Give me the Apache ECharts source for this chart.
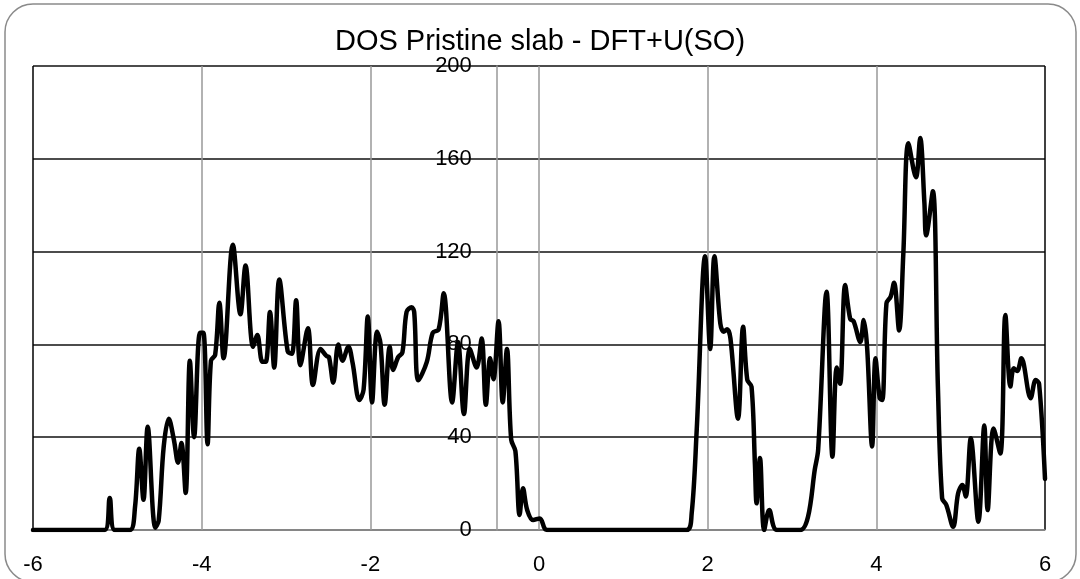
<!DOCTYPE html>
<html>
<head>
<meta charset="utf-8">
<script src="https://cdn.jsdelivr.net/npm/echarts@6/dist/echarts.min.js"></script>
<style>
html,body{margin:0;padding:0;background:#fff;}
#chart{width:1080px;height:579px;}
</style>
</head>
<body>
<div id="chart"></div>
<script>
const chartTitle = 'DOS Pristine slab - DFT+U(SO)';
const xTicks = [-6, -4, -2, 0, 2, 4, 6];
const yTicks = [0, 40, 80, 120, 160, 200];
const yAxisCrossAt = -0.5;

const energy = [
  -6, -5.15, -5.09, -5.03, -4.85, -4.79, -4.74, -4.69, -4.64, -4.55, -4.51, -4.45, -4.39, -4.33, -4.28, -4.24,
  -4.19, -4.14, -4.09, -4.02, -3.98, -3.93, -3.89, -3.84, -3.79, -3.74, -3.63, -3.54, -3.48, -3.39, -3.34, -3.28,
  -3.24, -3.19, -3.14, -3.08, -2.98, -2.93, -2.88, -2.83, -2.74, -2.68, -2.59, -2.52, -2.49, -2.44, -2.38, -2.33,
  -2.26, -2.21, -2.13, -2.08, -2.03, -1.98, -1.92, -1.88, -1.83, -1.77, -1.73, -1.67, -1.62, -1.57, -1.51, -1.48,
  -1.43, -1.33, -1.26, -1.19, -1.13, -1.03, -0.96, -0.89, -0.82, -0.74, -0.68, -0.63, -0.58, -0.54, -0.48, -0.43,
  -0.38, -0.33, -0.28, -0.23, -0.19, -0.14, -0.07, 0.01, 0.07, 0.12, 1.75, 1.81, 1.87, 1.97, 2.03, 2.08,
  2.15, 2.19, 2.23, 2.27, 2.36, 2.42, 2.47, 2.52, 2.56, 2.58, 2.62, 2.67, 2.73, 2.82, 3.10, 3.19,
  3.27, 3.31, 3.41, 3.48, 3.53, 3.57, 3.63, 3.69, 3.73, 3.81, 3.85, 3.89, 3.95, 3.99, 4.04, 4.07,
  4.12, 4.17, 4.21, 4.27, 4.32, 4.38, 4.47, 4.52, 4.57, 4.59, 4.67, 4.73, 4.78, 4.83, 4.91, 4.97,
  5.02, 5.06, 5.12, 5.21, 5.28, 5.32, 5.39, 5.47, 5.53, 5.59, 5.63, 5.67, 5.72, 5.83, 5.89, 5.93, 6.0
];
const dos = [
  0, 0, 13.8, 0, 0, 10, 35, 13, 44.5, 1, 4, 36, 48, 39, 29, 37.5,
  16, 73, 40, 85, 85, 37, 73, 75.5, 98, 74, 123, 93, 114, 79, 84, 72.5,
  72.5, 94, 70, 108, 77, 76, 99, 71, 87, 62.5, 78, 75, 74.5, 63.5, 80, 73,
  79, 72, 56, 60.5, 92, 55, 85.5, 80.5, 54, 79, 69, 74.5, 76.5, 94, 96, 94,
  64.5, 72.5, 85, 86.5, 102, 55, 81, 50, 78, 70, 82.5, 54, 74, 65, 90, 55,
  78, 39, 34, 6.5, 18, 8.6, 4.3, 5, 0.5, 0, 0, 7, 43, 118, 78, 118,
  89, 85.5, 86.5, 82.6, 48, 87.6, 64.7, 61.8, 28.7, 11.5, 31, 0, 8.6, 0, 0, 5.7,
  26, 34.5, 102.7, 31.6, 70, 63, 105.6, 91, 90, 81, 90.5, 79, 36, 74, 56.8, 56,
  97.7, 100.6, 106.6, 86, 119, 166.7, 152, 169, 141, 127, 146, 61.8, 13.7, 10.8, 1.4, 15.8,
  19.4, 14.4, 39.5, 3.6, 45, 8.6, 43.8, 33, 92.7, 61.8, 69.7, 68.5, 74, 56.8, 64.7, 63, 22
];

const seriesData = energy.map((x, i) => [x, dos[i]]);
const FONT = '"Liberation Sans", Arial, sans-serif';

const W = 1080, H = 579;
const gridLeft = 33, gridRight = 35, gridTop = 66, gridBottom = 49;
const plotW = W - gridLeft - gridRight;
const xMin = xTicks[0], xMax = xTicks[xTicks.length - 1];
// y axis crosses the x axis at yAxisCrossAt: shift it inward from the left edge
const yAxisShift = (yAxisCrossAt - xMin) / (xMax - xMin) * plotW;

const chart = echarts.init(document.getElementById('chart'), null, {renderer: 'canvas'});
chart.setOption({
  animation: false,
  backgroundColor: '#fff',
  title: {
    text: chartTitle,
    left: 'center',
    top: 22,
    textStyle: {fontFamily: FONT, fontSize: 29, fontWeight: 'normal', color: '#000'}
  },
  graphic: [{
    type: 'rect',
    shape: {x: 5, y: 4, width: 1071, height: 578, r: 28},
    style: {fill: 'none', stroke: '#8a8a8a', lineWidth: 1.5},
    silent: true, z: -10
  }],
  grid: {left: gridLeft, right: gridRight, top: gridTop, bottom: gridBottom, containLabel: false, outerBoundsMode: 'none'},
  xAxis: {
    type: 'value',
    min: xMin, max: xMax, interval: 2,
    position: 'bottom',
    axisLine: {show: true, onZero: false, lineStyle: {color: '#999', width: 1.5}},
    axisTick: {show: false},
    axisLabel: {fontFamily: FONT, fontSize: 22, color: '#000', margin: 24, showMinLabel: true, showMaxLabel: true},
    splitLine: {show: true, lineStyle: {color: ['#000', '#999', '#999', '#999', '#999', '#999', '#000'], width: 1.5}}
  },
  yAxis: {
    type: 'value',
    position: 'left',
    offset: -yAxisShift,
    min: yTicks[0], max: yTicks[yTicks.length - 1], interval: 40,
    axisLine: {show: true, onZero: false, lineStyle: {color: '#999', width: 1.5}},
    axisTick: {show: false},
    axisLabel: {fontFamily: FONT, fontSize: 22, color: '#000', margin: 25},
    splitLine: {show: true, lineStyle: {color: '#111', width: 1.5}}
  },
  series: [{
    type: 'line',
    data: seriesData,
    smooth: 0.35,
    showSymbol: false,
    symbol: 'none',
    lineStyle: {color: '#000', width: 4.5, join: 'round', cap: 'round'},
    z: 5
  }]
});
</script>
</body>
</html>
